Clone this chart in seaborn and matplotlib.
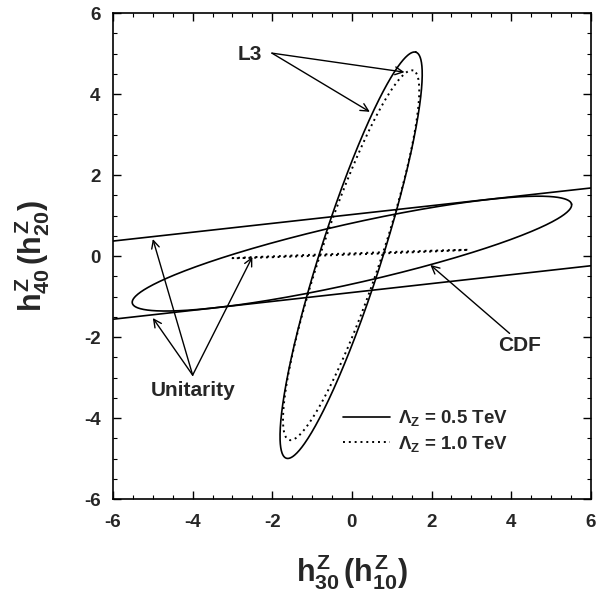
import numpy as np
import pandas as pd
import matplotlib
matplotlib.use("Agg")
import matplotlib.pyplot as plt
from matplotlib.ticker import MultipleLocator
import seaborn as sns

# contour ellipses:
# centre x, centre y, semi-major, semi-minor, tilt (deg)
l3_solid = [-0.02, 0.02, 5.27, 0.77, 72.0]
l3_dotted = [-0.02, 0.02, 4.82, 0.74, 71.1]
cdf_solid = [0.0, 0.06, 5.65, 0.735, 12.5]
cdf_dotted = [-0.05, 0.05, 2.95, 0.015, 2.0]

# unitarity bounds, straight across the panel
unit_x = [-6, 6]
unit_upper = [0.37, 1.68]
unit_lower = [-1.56, -0.24]

ticks = [-6, -4, -2, 0, 2, 4, 6]
legend_labels = [r"$\Lambda_Z$ = 0.5 TeV", r"$\Lambda_Z$ = 1.0 TeV"]


def ellipse(cx, cy, a, b, ang, n=500):
    """points along a tilted ellipse"""
    t = np.linspace(0, 2 * np.pi, n)
    r = np.deg2rad(ang)
    x = cx + a * np.cos(t) * np.cos(r) - b * np.sin(t) * np.sin(r)
    y = cy + a * np.cos(t) * np.sin(r) + b * np.sin(t) * np.cos(r)
    return pd.DataFrame({"x": x, "y": y})


sns.set_style("ticks")
plt.rcParams["font.family"] = ["Liberation Sans", "DejaVu Sans"]
plt.rcParams["font.weight"] = "bold"
plt.rcParams["mathtext.fontset"] = "custom"
plt.rcParams["mathtext.rm"] = "Liberation Sans:bold"
plt.rcParams["mathtext.it"] = "Liberation Sans:bold"
plt.rcParams["mathtext.bf"] = "Liberation Sans:bold"
plt.rcParams["axes.unicode_minus"] = False

fig = plt.figure(figsize=(5.98, 5.92), dpi=100)
ax = fig.add_axes([0.189, 0.157, 0.799, 0.821])

solid_kw = dict(color="black", linewidth=1.2, sort=False, estimator=None, ax=ax)
dot_kw = dict(color="black", linewidth=1.4, linestyle=(0, (1, 2)), sort=False, estimator=None, ax=ax)

sns.lineplot(data=ellipse(*l3_solid), x="x", y="y", **solid_kw)
h_solid = ax.lines[-1]
sns.lineplot(data=ellipse(*l3_dotted), x="x", y="y", **dot_kw)
h_dot = ax.lines[-1]
sns.lineplot(data=ellipse(*cdf_solid), x="x", y="y", **solid_kw)
sns.lineplot(data=ellipse(*cdf_dotted), x="x", y="y", **dot_kw)
sns.lineplot(x=unit_x, y=unit_upper, **solid_kw)
sns.lineplot(x=unit_x, y=unit_lower, **solid_kw)

# annotations
arrow = dict(arrowstyle="->", color="black", lw=1.0, shrinkA=0, shrinkB=0,
             mutation_scale=14)
ax.text(-2.56, 4.97, "L3", fontsize=15, fontweight="bold", ha="center", va="center")
for tgt in [(1.32, 4.54), (0.45, 3.56)]:
    ax.annotate("", xy=tgt, xytext=(-2.01, 5.01), arrowprops=arrow)

ax.text(-4.0, -3.31, "Unitarity", fontsize=15, fontweight="bold", ha="center", va="center")
for tgt in [(-5.0, 0.42), (-5.0, -1.53), (-2.5, -0.02)]:
    ax.annotate("", xy=tgt, xytext=(-4.0, -2.94), arrowprops=arrow)

ax.text(4.2, -2.2, "CDF", fontsize=15, fontweight="bold", ha="center", va="center")
ax.annotate("", xy=(1.97, -0.22), xytext=(3.96, -1.91), arrowprops=arrow)

ax.legend([h_solid, h_dot], legend_labels, loc="upper left",
          bbox_to_anchor=(0.482, 0.187), frameon=False, fontsize=13.5,
          handlelength=2.5, handletextpad=0.4, labelspacing=0.3,
          borderpad=0, borderaxespad=0)

ax.set_xlim(-6, 6)
ax.set_ylim(-6, 6)
ax.set_xticks(ticks)
ax.set_yticks(ticks)
ax.set_xticklabels([str(t) for t in ticks], fontsize=13.5, fontweight="bold")
ax.set_yticklabels([str(t) for t in ticks], fontsize=13.5, fontweight="bold")
ax.xaxis.set_minor_locator(MultipleLocator(0.5))
ax.yaxis.set_minor_locator(MultipleLocator(0.5))
ax.tick_params(which="both", direction="in", top=True, right=True, color="black")
ax.tick_params(which="major", length=6, width=1.0)
ax.tick_params(which="minor", length=3, width=0.8)
ax.tick_params(axis="x", which="major", pad=11)
ax.tick_params(axis="y", which="major", pad=9)
for s in ax.spines.values():
    s.set_color("black")
    s.set_linewidth(1.2)

ax.set_xlabel(r"$h^Z_{30}\,(h^Z_{10})$", fontsize=22, labelpad=15)
ax.set_ylabel(r"$h^Z_{40}\,(h^Z_{20})$", fontsize=22, labelpad=23)

fig.savefig("out.png", dpi=100)
